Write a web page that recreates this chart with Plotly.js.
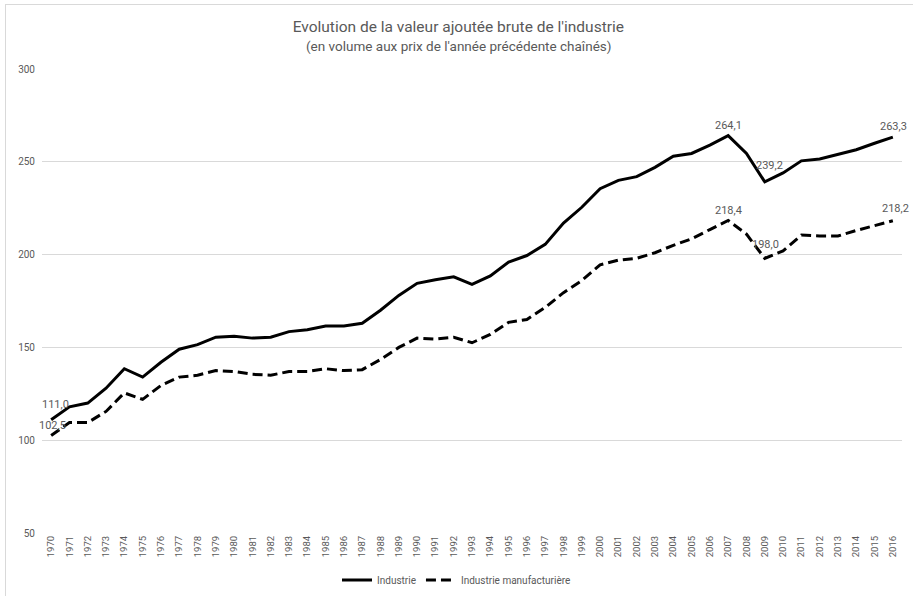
<!DOCTYPE html>
<html>
<head>
<meta charset="utf-8">
<script src="https://cdn.plot.ly/plotly-3.0.1.min.js"></script>
<style>
html,body{margin:0;padding:0;background:#fff;overflow:hidden;}
#chart{width:913px;height:596px;position:absolute;left:0;top:0;}
#frame{position:absolute;left:5px;top:4px;width:930px;height:620px;border:1px solid #d9d9d9;pointer-events:none;}
</style>
</head>
<body>
<div id="chart"></div>
<div id="frame"></div>
<script>
const years = ["1970","1971","1972","1973","1974","1975","1976","1977","1978","1979",
"1980","1981","1982","1983","1984","1985","1986","1987","1988","1989",
"1990","1991","1992","1993","1994","1995","1996","1997","1998","1999",
"2000","2001","2002","2003","2004","2005","2006","2007","2008","2009",
"2010","2011","2012","2013","2014","2015","2016"];

const industrie = [111.0,118.0,120.0,128.0,138.5,134.0,142.0,149.0,151.5,155.5,
156.0,155.0,155.5,158.5,159.5,161.5,161.5,163.0,170.0,178.0,
184.5,186.5,188.0,184.0,188.5,196.0,199.5,205.5,217.0,225.5,
235.5,240.0,242.0,247.0,253.0,254.5,259.0,264.1,254.5,239.2,
244.0,250.5,251.5,254.0,256.5,260.0,263.3];

const manufacturiere = [102.5,109.5,109.5,115.5,125.5,122.0,129.5,134.0,135.0,137.5,
137.0,135.5,135.0,137.0,137.0,138.5,137.5,138.0,143.5,150.0,
155.0,154.5,155.5,152.5,157.0,163.5,165.0,171.5,179.5,186.0,
194.5,197.0,198.0,201.0,205.0,208.5,213.5,218.4,211.0,198.0,
202.0,210.5,210.0,210.0,213.0,215.5,218.2];

const seriesNames = ["Industrie","Industrie manufacturière"];
const labelled = ["1970","2007","2009","2016"];
const titleText = "Evolution de la valeur ajoutée brute de l'industrie";
const subtitleText = "(en volume aux prix de l'année précédente chaînés)";

const fmt = v => v.toFixed(1).replace(".", ",");
const font = "Liberation Sans Narrow, Roboto, Arial, sans-serif";
const gray = "#595959";

const traces = [
  {x: years, y: industrie, name: seriesNames[0], type: "scatter", mode: "lines",
   line: {color: "#000", width: 3}},
  {x: years, y: manufacturiere, name: seriesNames[1], type: "scatter", mode: "lines",
   line: {color: "#000", width: 3, dash: "10px,5px"}}
];

const annotations = [];
const offs = {
  "1970": [[4,15],[1,10]],
  "2007": [[0,10],[0,10]],
  "2009": [[5,16],[1,14]],
  "2016": [[1,11],[3,12]]
};
labelled.forEach(yr => {
  const i = years.indexOf(yr);
  [industrie, manufacturiere].forEach((arr, k) => {
    annotations.push({xref: "x", yref: "y", x: i, y: arr[i], text: fmt(arr[i]), showarrow: false,
      xshift: offs[yr][k][0], yshift: offs[yr][k][1],
      font: {family: font, size: 11, color: gray}});
  });
});
annotations.push({xref: "paper", yref: "paper", x: (459 - 42) / 860, y: 1, yshift: 23,
  xanchor: "center", yanchor: "middle", showarrow: false, text: subtitleText,
  font: {family: font, size: 13.5, color: gray}});

const layout = {
  width: 913, height: 596,
  margin: {l: 42, r: 11, t: 69, b: 63},
  paper_bgcolor: "#fff", plot_bgcolor: "#fff",
  title: {text: titleText, x: 0.502, xanchor: "center", xref: "container",
    y: 1 - 27/596, yanchor: "middle",
    font: {family: font, size: 15.5, color: gray}},
  xaxis: {type: "category", range: [-0.5, 46.5], tickangle: -90, automargin: false,
    showgrid: false, showline: false, ticks: "", zeroline: false,
    tickfont: {family: font, size: 9.5, color: gray}},
  yaxis: {range: [50, 300], dtick: 50, tick0: 50, showline: false, ticks: "", automargin: false,
    gridcolor: "#d9d9d9", gridwidth: 1, zeroline: false,
    tickfont: {family: font, size: 10, color: gray}, ticklabelstandoff: 6},
  showlegend: true,
  legend: {orientation: "h", x: 0.5, xref: "container", xanchor: "center",
    yref: "container", y: 16/596, yanchor: "middle",
    font: {family: font, size: 10, color: gray}},
  annotations: annotations
};

Plotly.newPlot("chart", traces, layout, {displayModeBar: false, staticPlot: true});
</script>
</body>
</html>
